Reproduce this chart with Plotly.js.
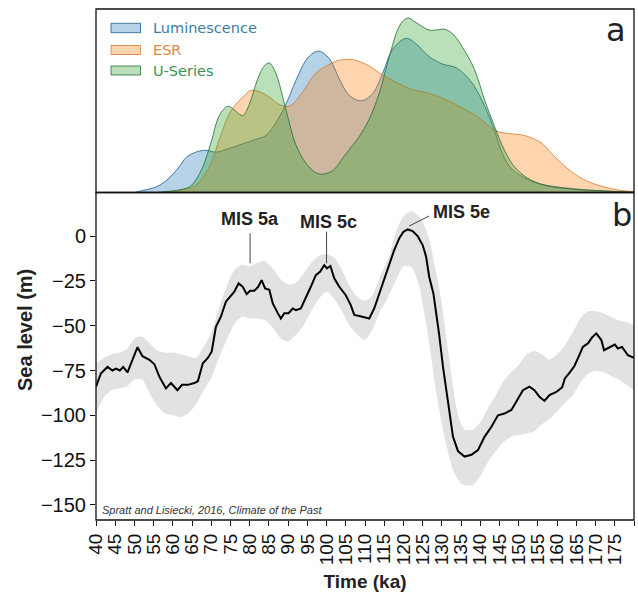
<!DOCTYPE html>
<html>
<head>
<meta charset="utf-8">
<script src="https://cdn.plot.ly/plotly-3.0.1.min.js"></script>
<style>html,body{margin:0;padding:0;background:#fff;}#chart{width:638px;height:594px;}</style>
</head>
<body>
<div id="chart"></div>
<script>
// ---- Panel a: age densities ----
var lumX = [50,52,55.6,58,60,62,63.4,66,68.6,71.2,74.7,78.2,81.6,84.2,86.8,89.4,92,94.6,96.5,98.1,100.7,103.3,105.9,109,112,114.6,117.2,120.7,123.3,126.7,130.2,133.7,137.4,140.5,143.5,145.8,148.1,151.5,155,160.2,168,175,180];
var lumY = [0,0.01,0.03,0.06,0.10,0.15,0.19,0.22,0.23,0.22,0.24,0.265,0.29,0.31,0.38,0.48,0.61,0.72,0.76,0.77,0.73,0.62,0.53,0.50,0.54,0.65,0.78,0.84,0.81,0.74,0.70,0.68,0.61,0.50,0.35,0.21,0.13,0.08,0.05,0.03,0.014,0.006,0.003];

var esrX = [58,60,63,66,69.5,72.1,74.7,76.4,78.2,80.3,82.5,85.1,87.7,90.3,92,94.5,97.2,100,102.4,104.5,106.8,109,111.1,114.6,118.1,122.4,126.7,131.1,135.4,139.5,143.7,146,148.1,150.5,152.4,155.9,159.3,163.7,168,172.4,176,180];
var esrY = [0,0.005,0.015,0.04,0.14,0.29,0.43,0.48,0.52,0.556,0.55,0.52,0.48,0.47,0.50,0.57,0.65,0.69,0.715,0.725,0.724,0.71,0.69,0.64,0.60,0.56,0.54,0.505,0.46,0.41,0.34,0.325,0.32,0.315,0.305,0.27,0.196,0.114,0.06,0.03,0.013,0.005];

var useX = [56,58,61,64.3,66,67.8,69.9,72.1,74.3,76,78.2,79.9,82,83.8,85.1,86.8,88.6,90.3,92,94.6,97.2,99,101.6,105,108.5,111.1,113.7,116.3,118.9,120.5,121.5,123,124.1,126.7,129,130.7,132.8,135.4,138.5,141.1,143.7,146.3,148.9,152.4,156.7,163.7,172.4,180];
var useY = [0,0.005,0.012,0.03,0.07,0.14,0.27,0.42,0.47,0.45,0.42,0.48,0.615,0.69,0.706,0.65,0.52,0.38,0.26,0.16,0.108,0.10,0.12,0.21,0.305,0.40,0.54,0.74,0.905,0.945,0.95,0.93,0.915,0.885,0.887,0.89,0.865,0.79,0.67,0.505,0.36,0.23,0.14,0.077,0.04,0.019,0.008,0.001];

var seriesNames = ["Luminescence","ESR","U-Series"];

// ---- Panel b: sea level ----
var seaX = [40,41.3,43,44.3,45.2,46.2,47.1,48.2,49.5,50.8,52.1,53.9,55.2,56.5,58.2,59.5,61.2,62.4,63.9,65.6,66.5,67.8,69.1,70.1,71.2,72.5,73.8,75.1,76,77.1,78.2,79.2,80.1,81.2,82.2,83.1,84,85.1,86,87.3,88.1,89,90.1,91.2,92,93.3,94.6,95.9,97.2,98.3,99.4,100.1,101,102,103.3,105,106.3,107.2,108.5,109.8,111.1,112.4,113.7,115,116.3,117.6,118.9,120,121.1,122.4,123.7,125,125.9,126.7,127.8,128.6,129.3,130.3,131.2,132,132.9,134.2,135.9,137.7,139.4,141.1,142.9,144.6,146.3,148.1,149.8,151.1,152.8,154.1,155.4,156.7,158,159.8,161.3,162,163.2,164.5,165.6,166.7,168,169.1,170.2,171.5,172.2,173.7,175,175.8,176.9,178.4,179.7,180];
var seaY = [-84,-76.5,-73,-75,-74,-75,-73,-76,-69,-62,-67,-69,-71.5,-78.5,-85,-82,-86,-83,-83,-82,-81,-71,-68,-64.5,-50.6,-45,-36.6,-33,-31,-26.4,-28.3,-32.4,-30.5,-30.5,-28.3,-24.6,-29.2,-30,-37.6,-43,-46,-43,-43,-40.4,-41.3,-40.4,-34.8,-28.3,-21.8,-19.9,-16.2,-18,-16.7,-23.6,-28.3,-33,-38.5,-44,-44.6,-45.4,-46,-40.4,-32,-24.6,-15.3,-7.8,-1.3,2.4,3.7,2.8,0,-5,-11.5,-22.7,-32,-43,-55,-73,-86,-99,-112,-120,-123,-122,-119.4,-112,-106.4,-100,-99,-97,-90.6,-86,-84,-86,-89.7,-92,-88.7,-87,-84.4,-79.4,-76.3,-72.5,-67.3,-61.8,-59.9,-56.5,-54.3,-58,-63.7,-61.8,-60.5,-62.7,-61.8,-66.5,-67.8,-68];

var bandX = [40,42,44,46,48,50,52,54,56,58,60,62,64,66,68,70,72,74,76,78,80,82,84,86,88,90,92,94,96,98,100,102,104,106,108,110,112,114,116,118,120,122,124,125,126,127,128,129,130,131,132,133,134,135,136,138,140,142,144,146,148,150,152,154,156,158,160,162,164,166,168,170,172,174,176,178,180];
var bandUpper = [-71,-68,-66,-65,-63,-57,-56,-60,-64,-65,-65,-66,-67,-68,-62,-54,-40,-28,-19,-16,-17,-15,-14,-18,-24,-27,-26,-21,-15,-11,-10,-12,-19,-28,-34,-36,-33,-22,-13,2,11,14,11,8,3,-4,-15,-25,-38,-54,-70,-85,-98,-105,-108,-108,-104,-96,-89,-81,-76,-72,-66,-64,-66,-69,-66,-61,-54,-46,-42,-42,-43,-45,-47,-48,-50];
var bandLower = [-99,-90,-86,-85,-84,-80,-80,-88,-95,-99,-100,-101,-99,-94,-86,-79,-68,-58,-49,-45,-46,-46,-47,-51,-57,-59,-55,-50,-42,-35,-31,-35,-42,-50,-55,-58,-52,-42,-34,-25,-17,-17,-27,-38,-50,-64,-80,-93,-105,-115,-124,-131,-135,-138,-139,-139,-134,-126,-120,-115,-112,-111,-110,-109,-105,-102,-98,-93,-89,-82,-77,-75,-76,-78,-80,-83,-86];

var xTicks = [40,45,50,55,60,65,70,75,80,85,90,95,100,105,110,115,120,125,130,135,140,145,150,155,160,165,170,175,180];
var yTicks = [-150,-125,-100,-75,-50,-25,0];

var misLabels = ["MIS 5a","MIS 5c","MIS 5e"];

// ---- styling ----
var fills = ["rgba(31,119,180,0.33)","rgba(255,127,14,0.33)","rgba(44,160,44,0.33)"];
var edges = ["rgba(31,95,140,0.8)","rgba(215,115,40,0.75)","rgba(35,110,55,0.8)"];
var textCols = ["#3f7ba6","#e08a42","#3a9158"];
var tickFam = 'Liberation Sans Narrow, Liberation Sans, Arial, sans-serif';

var W = 638, H = 594, L = 96, R = 4, T = 9, B = 74;
var plotW = W - L - R, plotH = H - T - B;
var split = (H - B - 192.5) / plotH;
function px(x){ return (x - L) / plotW; }
function py(y){ return (H - B - y) / plotH; }

var dens = [[lumX,lumY],[esrX,esrY],[useX,useY]];
var traces = [];
dens.forEach(function(d,i){
  traces.push({x:d[0], y:d[1], xaxis:'x', yaxis:'y2', type:'scatter', mode:'lines',
    line:{color:edges[i], width:1, shape:'spline', smoothing:1},
    fill:'tozeroy', fillcolor:fills[i], name:seriesNames[i], showlegend:false, hoverinfo:'skip'});
});
traces.push({x:bandX, y:bandLower, xaxis:'x', yaxis:'y', mode:'lines', line:{width:0, color:'rgba(0,0,0,0)', shape:'spline', smoothing:0.6}, showlegend:false, hoverinfo:'skip'});
traces.push({x:bandX, y:bandUpper, xaxis:'x', yaxis:'y', mode:'lines', line:{width:0, color:'rgba(0,0,0,0)', shape:'spline', smoothing:0.6}, fill:'tonexty', fillcolor:'#e2e2e2', showlegend:false, hoverinfo:'skip'});
traces.push({x:seaX, y:seaY, xaxis:'x', yaxis:'y', mode:'lines', line:{color:'#000', width:2}, showlegend:false, name:'Sea level'});

var shapes = [
  {type:'rect', xref:'paper', yref:'paper', x0:0, x1:1, y0:split, y1:1, line:{color:'#111', width:1.3}, layer:'above'},
  {type:'rect', xref:'paper', yref:'paper', x0:0, x1:1, y0:0, y1:split, line:{color:'#111', width:1.3}, layer:'above'},
  // MIS pointers
  {type:'line', xref:'x', yref:'y', x0:80.1, x1:80.1, y0:1.5, y1:-15.2, line:{color:'#444', width:1}},
  {type:'line', xref:'x', yref:'y', x0:100.0, x1:100.0, y0:2.4, y1:-15.2, line:{color:'#444', width:1}},
  {type:'line', xref:'x', yref:'y', x0:126.7, x1:121.5, y0:11.2, y1:5.6, line:{color:'#444', width:1}}
];
// legend swatches
var legRows = [[23.3,32.7],[45.5,54.5],[66,75]];
legRows.forEach(function(r,i){
  shapes.push({type:'rect', xref:'paper', yref:'paper', x0:px(111), x1:px(140.5), y0:py(r[1]), y1:py(r[0]),
    fillcolor:fills[i], line:{color:edges[i], width:1}});
});

var annotations = [
  {x:175.3, y:0.885, xref:'x', yref:'y2', yanchor:'middle', text:'a', showarrow:false, font:{family:'DejaVu Sans', size:32, color:'#222'}},
  {x:176.9, y:12, xref:'x', yref:'y', yanchor:'middle', text:'b', showarrow:false, font:{family:'DejaVu Sans', size:32, color:'#222'}},
  {x:80.1, y:9.5, xref:'x', yref:'y', yanchor:'middle', text:'<b>'+misLabels[0]+'</b>', showarrow:false, font:{family:'Liberation Sans', size:18, color:'#222'}},
  {x:100.4, y:8, xref:'x', yref:'y', yanchor:'middle', text:'<b>'+misLabels[1]+'</b>', showarrow:false, font:{family:'Liberation Sans', size:18, color:'#222'}},
  {x:127.2, y:13.5, xref:'x', yref:'y', xanchor:'left', yanchor:'middle', text:'<b>'+misLabels[2]+'</b>', showarrow:false, font:{family:'Liberation Sans', size:18, color:'#222'}},
  {x:px(100), y:py(510), xref:'paper', yref:'paper', xanchor:'left', yanchor:'middle', text:'<i>Spratt and Lisiecki, 2016, Climate of the Past</i>', showarrow:false, font:{family:'Liberation Sans', size:11, color:'#333'}},
  {x:px(25), y:py(330), xref:'paper', yref:'paper', xanchor:'center', yanchor:'middle', textangle:-90, text:'<b>Sea level (m)</b>', showarrow:false, font:{family:'Liberation Sans', size:20, color:'#222'}}
];
[28,50,70.5].forEach(function(yy,i){
  annotations.push({x:px(151), y:py(yy), xref:'paper', yref:'paper', xanchor:'left', yanchor:'middle', text:seriesNames[i], showarrow:false,
    font:{family:'DejaVu Sans', size:14.5, color:textCols[i]}});
});

var layout = {
  width:W, height:H, margin:{l:L, r:R, t:T, b:B},
  paper_bgcolor:'#fff', plot_bgcolor:'#fff', showlegend:false,
  font:{family:'Liberation Sans', color:'#111'},
  xaxis:{range:[40,180], anchor:'y', tickvals:xTicks, tickangle:-90, ticks:'outside', ticklen:5, tickcolor:'#111',
    showgrid:false, zeroline:false, showline:false, automargin:false, tickfont:{family:tickFam, size:19, color:'#111'},
    title:{text:'<b>Time (ka)</b>', font:{family:'Liberation Sans', size:19, color:'#222'}, standoff:10}},
  yaxis:{domain:[0, split], range:[-158.4, 24.3], tickvals:yTicks, ticks:'outside', ticklen:5, tickcolor:'#111',
    showgrid:false, zeroline:false, showline:false, automargin:false, tickfont:{family:tickFam, size:20, color:'#111'}},
  yaxis2:{domain:[split, 1], range:[0, 1.0], anchor:'x', showticklabels:false, ticks:'', showgrid:false, zeroline:false, showline:false},
  shapes:shapes, annotations:annotations
};

Plotly.newPlot('chart', traces, layout, {displayModeBar:false, staticPlot:true});
</script>
</body>
</html>
